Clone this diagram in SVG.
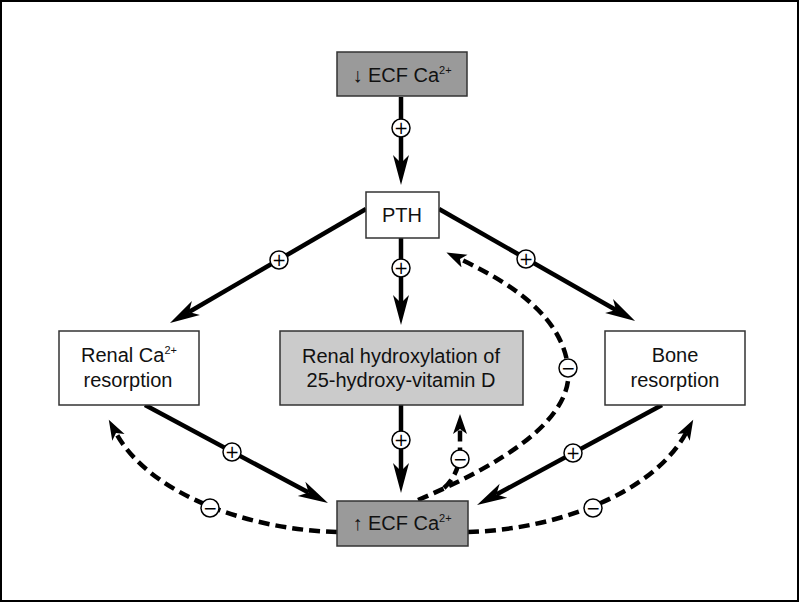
<svg xmlns="http://www.w3.org/2000/svg" width="800" height="603" viewBox="0 0 800 603">
<style>
.box{stroke:#333;stroke-width:1.5}
.w{fill:#fff}
.dk{fill:#9a9a9a}
.lt{fill:#cbcbcb}
.t{font-family:"Liberation Sans",Arial,sans-serif;font-size:20px;fill:#111;text-anchor:middle}
.sup{font-size:11px}
.solid{fill:none;stroke:#000;stroke-width:4.5}
.dash{fill:none;stroke:#000;stroke-width:4.5;stroke-dasharray:11 6}
.sg circle{fill:#fff;stroke:#000;stroke-width:1.5}
.sg text{font-family:"DejaVu Sans",sans-serif;font-size:17px;fill:#000;text-anchor:middle}
</style>
<defs>
<marker id="ah" markerUnits="userSpaceOnUse" markerWidth="32" markerHeight="20" refX="8" refY="10" orient="auto" viewBox="0 0 32 20">
<path d="M0,2 L30,10 L0,18 L8,10 Z" fill="#000"/>
</marker>
<marker id="dh" markerUnits="userSpaceOnUse" markerWidth="22" markerHeight="16" refX="5" refY="8" orient="auto" viewBox="0 0 22 16">
<path d="M0,1 L20,8 L0,15 L5,8 Z" fill="#000"/>
</marker>
</defs>
<rect x="1" y="1" width="797" height="600" fill="#fff" stroke="#000" stroke-width="2"/>

<g id="connectors">
<path class="solid" d="M401,97 L401,163" marker-end="url(#ah)"/>
<path class="solid" d="M366,209 L189,312" marker-end="url(#ah)"/>
<path class="solid" d="M401,238 L401,303" marker-end="url(#ah)"/>
<path class="solid" d="M439,209 L616,310" marker-end="url(#ah)"/>
<path class="solid" d="M145,405 L308.6,492.6" marker-end="url(#ah)"/>
<path class="solid" d="M401,405 L401,471" marker-end="url(#ah)"/>
<path class="solid" d="M662,405 L496.4,494.5" marker-end="url(#ah)"/>
<path class="dash" d="M337,532 C250,530 150,495 116,433" marker-end="url(#dh)"/>
<path class="dash" d="M468,532 C553,530 652,495 686,433" marker-end="url(#dh)"/>
<path class="dash" d="M418,500 C500,465 575,420 568,367 C562,318 515,285 460,259" marker-end="url(#dh)"/>
<path class="dash" d="M444,488 C455,478 460,465 460,450 L460,429" marker-end="url(#dh)"/>
<g class="sg">
<circle cx="401" cy="128" r="9"/><text x="401" y="134">+</text>
<circle cx="279" cy="260" r="9"/><text x="279" y="266">+</text>
<circle cx="401" cy="268" r="9"/><text x="401" y="274">+</text>
<circle cx="526" cy="259" r="9"/><text x="526" y="265">+</text>
<circle cx="232" cy="452" r="9"/><text x="232" y="458">+</text>
<circle cx="401" cy="440" r="9"/><text x="401" y="446">+</text>
<circle cx="573" cy="453" r="9"/><text x="573" y="459">+</text>
<circle cx="210" cy="508" r="9"/><text x="210" y="514">−</text>
<circle cx="593" cy="508" r="9"/><text x="593" y="514">−</text>
<circle cx="568" cy="368" r="9"/><text x="568" y="374">−</text>
<circle cx="460" cy="459" r="9"/><text x="460" y="465">−</text>
</g>
</g>

<g id="node-low-ca">
<rect class="box dk" x="337" y="52" width="130" height="44"/>
<text class="t" x="402" y="82">↓ ECF Ca<tspan class="sup" dy="-8">2+</tspan></text>
</g>
<g id="node-pth">
<rect class="box w" x="366" y="192" width="73" height="46"/>
<text class="t" x="402" y="222">PTH</text>
</g>
<g id="node-renal-ca">
<rect class="box w" x="59" y="331" width="140" height="74"/>
<text class="t" x="129" y="362">Renal Ca<tspan class="sup" dy="-8">2+</tspan></text>
<text class="t" x="128" y="387">resorption</text>
</g>
<g id="node-hydroxylation">
<rect class="box lt" x="280" y="331" width="243" height="74"/>
<text class="t" x="401" y="363">Renal hydroxylation of</text>
<text class="t" x="401" y="387">25-hydroxy-vitamin D</text>
</g>
<g id="node-bone">
<rect class="box w" x="605" y="331" width="140" height="74"/>
<text class="t" x="675" y="362">Bone</text>
<text class="t" x="675" y="387">resorption</text>
</g>
<g id="node-high-ca">
<rect class="box dk" x="337" y="501" width="131" height="45"/>
<text class="t" x="402" y="530">↑ ECF Ca<tspan class="sup" dy="-8">2+</tspan></text>
</g>
</svg>
